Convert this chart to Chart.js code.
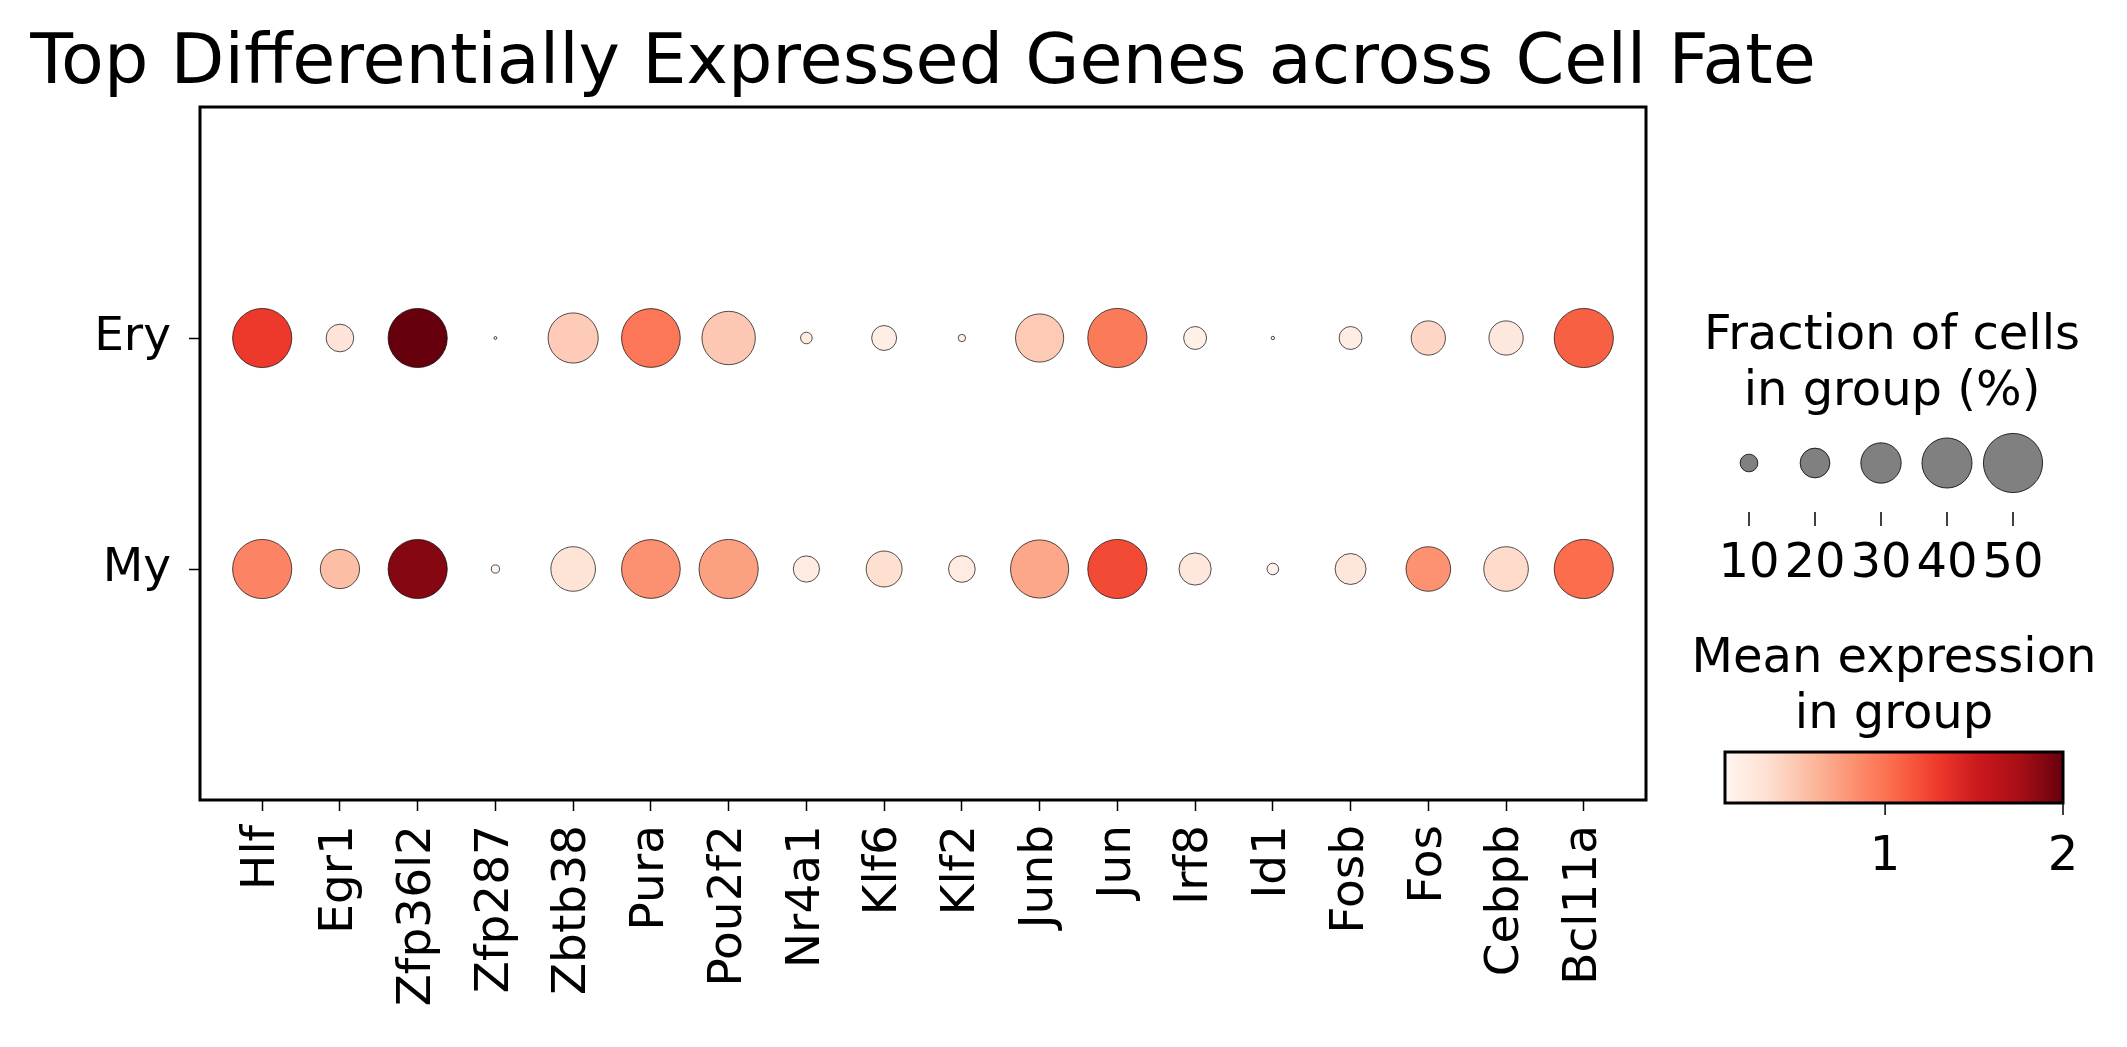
<!DOCTYPE html>
<html lang="en">
<head>
  <meta charset="UTF-8" />
  <title>Top Differentially Expressed Genes across Cell Fate</title>
  <script src="https://cdn.jsdelivr.net/npm/chart.js"></script>
  <style>
    body { margin: 0; background: #fff; }
    canvas { display: block; }
  </style>
</head>
<body>
  <canvas id="dotplot" width="2127" height="1047"></canvas>

  <script>
    const genes = ['Hlf', 'Egr1', 'Zfp36l2', 'Zfp287', 'Zbtb38', 'Pura', 'Pou2f2', 'Nr4a1', 'Klf6',
                   'Klf2', 'Junb', 'Jun', 'Irf8', 'Id1', 'Fosb', 'Fos', 'Cebpb', 'Bcl11a'];
    const groups = ['Ery', 'My'];

    // fraction of cells expressing (%)
    const eryFraction = [50, 18.1, 50, 0.9, 40.1, 49.5, 43.6, 5.7, 15.8, 3.1, 38.0, 50, 14.1, 1.1, 14.1, 24.1, 24.1, 50];
    const myFraction  = [50, 28.9, 50, 3.6, 34.3, 49.5, 50, 16.9, 25.7, 17.3, 48.9, 50, 22.2, 5.7, 21.1, 34.3, 34.3, 50];

    // mean expression in group
    const eryExpression = [1.30, 0.29, 2.00, 0.20, 0.47, 0.97, 0.49, 0.20, 0.18, 0.15, 0.48, 0.955, 0.16, 0.15, 0.19, 0.40, 0.25, 1.10];
    const myExpression  = [0.90, 0.55, 1.89, 0.12, 0.30, 0.82, 0.73, 0.21, 0.34, 0.21, 0.69, 1.21, 0.25, 0.13, 0.27, 0.81, 0.37, 1.03];

    const sizeLegend = [10, 20, 30, 40, 50];
    const colorTicks = [1, 2];
    const colorMin = 0.1, colorMax = 2.0;
    const fracMax = 50;
    const maxRadius = 29.6;

    const REDS = ['#fff5f0', '#fee0d2', '#fcbba1', '#fc9272', '#fb6a4a', '#ef3b2c', '#cb181d', '#a50f15', '#67000d'];

    function hexRgb(h) {
      return [1, 3, 5].map(i => parseInt(h.substr(i, 2), 16));
    }
    function reds(v) {
      let t = (v - colorMin) / (colorMax - colorMin);
      t = Math.max(0, Math.min(1, t)) * (REDS.length - 1);
      const i = Math.min(Math.floor(t), REDS.length - 2);
      const f = t - i;
      const a = hexRgb(REDS[i]), b = hexRgb(REDS[i + 1]);
      const c = a.map((x, k) => Math.round(x + (b[k] - x) * f));
      return `rgb(${c[0]},${c[1]},${c[2]})`;
    }
    // scanpy style: area ~ frac^1.5
    function dotRadius(frac) {
      return maxRadius * Math.pow(Math.min(frac, fracMax) / fracMax, 0.75);
    }

    function rowData(yPos, frac, expr) {
      return genes.map((g, i) => ({ x: i, y: yPos, r: dotRadius(frac[i]), v: expr[i] }));
    }

    const FONT = '"DejaVu Sans", sans-serif';

    const decor = {
      id: 'decor',
      afterDraw(chart) {
        const ctx = chart.ctx;
        const a = chart.chartArea;
        ctx.save();

        // axes frame
        ctx.strokeStyle = '#000';
        ctx.lineWidth = 3;
        ctx.strokeRect(a.left, a.top, a.right - a.left, a.bottom - a.top);

        // title
        ctx.fillStyle = '#000';
        ctx.textAlign = 'center';
        ctx.textBaseline = 'alphabetic';
        ctx.font = '70px ' + FONT;
        ctx.fillText('Top Differentially Expressed Genes across Cell Fate', (a.left + a.right) / 2, 83);

        // size legend
        ctx.font = '48px ' + FONT;
        ctx.fillText('Fraction of cells', 1892, 349);
        ctx.fillText('in group (%)', 1892, 405);
        sizeLegend.forEach((f, i) => {
          const x = 1749 + i * 66;
          ctx.beginPath();
          ctx.arc(x, 463, dotRadius(f), 0, Math.PI * 2);
          ctx.fillStyle = '#808080';
          ctx.fill();
          ctx.lineWidth = 0.8;
          ctx.strokeStyle = '#000';
          ctx.stroke();
          ctx.beginPath();
          ctx.lineWidth = 1.5;
          ctx.moveTo(x, 512);
          ctx.lineTo(x, 526);
          ctx.stroke();
          ctx.fillStyle = '#000';
          ctx.fillText(String(f), x, 577);
        });

        // colorbar
        ctx.fillText('Mean expression', 1894, 672);
        ctx.fillText('in group', 1894, 728);
        const x0 = 1725, x1 = 2063, y0 = 752, y1 = 803;
        const grad = ctx.createLinearGradient(x0, 0, x1, 0);
        REDS.forEach((c, i) => grad.addColorStop(i / (REDS.length - 1), c));
        ctx.fillStyle = grad;
        ctx.fillRect(x0, y0, x1 - x0, y1 - y0);
        ctx.lineWidth = 3;
        ctx.strokeStyle = '#000';
        ctx.strokeRect(x0, y0, x1 - x0, y1 - y0);
        ctx.fillStyle = '#000';
        colorTicks.forEach(v => {
          const x = x0 + (v - colorMin) / (colorMax - colorMin) * (x1 - x0);
          ctx.beginPath();
          ctx.lineWidth = 1.5;
          ctx.moveTo(x, y1);
          ctx.lineTo(x, y1 + 12);
          ctx.stroke();
          ctx.fillText(String(v), x, 870);
        });

        ctx.restore();
      }
    };

    const tickFont = { family: FONT, size: 47 };

    new Chart(document.getElementById('dotplot'), {
      type: 'bubble',
      data: {
        datasets: [
          { label: groups[0], data: rowData(1, eryFraction, eryExpression) },
          { label: groups[1], data: rowData(0, myFraction, myExpression) }
        ]
      },
      options: {
        responsive: false,
        animation: false,
        events: [],
        layout: { padding: { top: 107, right: 481, left: 0, bottom: 0 } },
        elements: {
          point: {
            backgroundColor: c => reds(c.raw.v),
            borderColor: 'rgba(0,0,0,0.85)',
            borderWidth: 0.8
          }
        },
        plugins: {
          legend: { display: false },
          tooltip: { enabled: false },
          title: { display: false }
        },
        scales: {
          x: {
            type: 'linear',
            min: -0.8,
            max: 17.8,
            afterBuildTicks: axis => { axis.ticks = genes.map((g, i) => ({ value: i })); },
            afterFit: s => { s.height = 247; },
            ticks: {
              callback: v => genes[v],
              autoSkip: false,
              maxRotation: 90,
              minRotation: 90,
              font: tickFont,
              color: '#000',
              padding: 14
            },
            grid: { drawOnChartArea: false, drawTicks: true, tickLength: 11, tickWidth: 1.5, tickColor: '#000' },
            border: { display: false }
          },
          y: {
            type: 'linear',
            min: -1,
            max: 2,
            afterBuildTicks: axis => { axis.ticks = [{ value: 0 }, { value: 1 }]; },
            afterFit: s => { s.width = 200; },
            ticks: {
              callback: v => (v === 1 ? groups[0] : groups[1]),
              font: tickFont,
              color: '#000',
              padding: 18
            },
            grid: { drawOnChartArea: false, drawTicks: true, tickLength: 11, tickWidth: 1.5, tickColor: '#000' },
            border: { display: false }
          }
        }
      },
      plugins: [decor]
    });
  </script>
</body>
</html>
